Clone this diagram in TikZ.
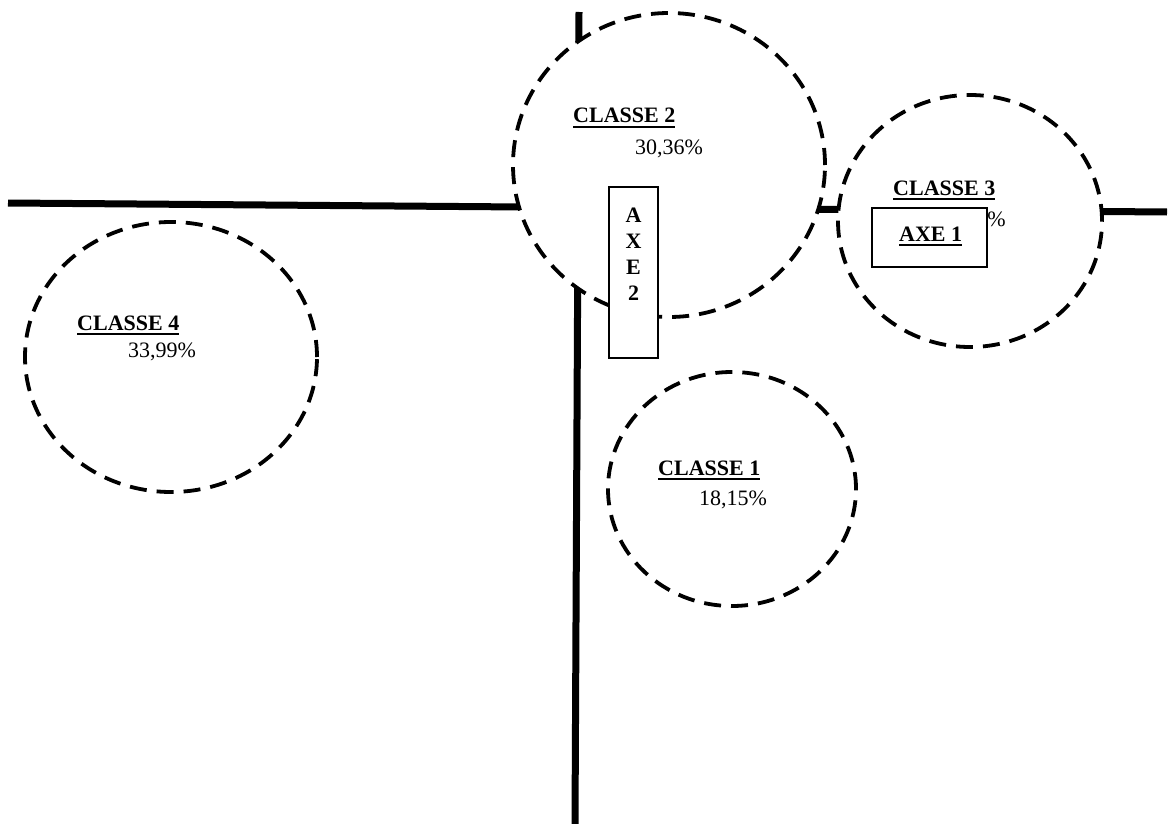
\documentclass[tikz,border=0pt]{standalone}
\usepackage{fontspec}
\setmainfont{Liberation Serif}
\usetikzlibrary{shapes.geometric}

% underline with a fixed offset and thickness
\newcommand\ulbar[1]{\begingroup\setbox0\hbox{#1}\rlap{\vrule width\wd0 height -2.6pt depth 4.6pt}\box0\endgroup}

\tikzset{
  axisline/.style={line width=7pt},
  classring/.style={ellipse, draw, fill=white, line width=3.8pt,
    dash pattern=on 17pt off 10pt, inner sep=0pt},
  classtitle/.style={anchor=base west, inner sep=0pt,
    font=\fontsize{22}{26}\selectfont\bfseries},
  classpct/.style={anchor=base west, inner sep=0pt,
    font=\fontsize{22}{26}\selectfont},
  axisbox/.style={draw, fill=white, line width=1.4pt, inner sep=0pt},
  axisletter/.style={anchor=base, inner sep=0pt,
    font=\fontsize{22}{26}\selectfont\bfseries}
}

\begin{document}
\begin{tikzpicture}[x=1pt, y=-1pt]
\useasboundingbox (0,0) rectangle (1170,824);

% the two axes
\coordinate (hleft) at (8,203);
\coordinate (hright) at (1167,212);
\coordinate (vtop) at (579,12);
\coordinate (vbottom) at (575,824);
\draw[axisline] (hleft) -- (hright);
\draw[axisline] (vtop) -- (vbottom);

% class rings (white filled, hiding the axes)
\node[classring, minimum width=312pt, minimum height=304pt] (ring2) at (669,165) {};
\node[classring, minimum width=264pt, minimum height=252pt] (ring3) at (970,221) {};
\node[classring, minimum width=292pt, minimum height=270pt] (ring4) at (171,357) {};
\node[classring, minimum width=248pt, minimum height=234pt] (ring1) at (732,489) {};

% labels of the classes
\node[classtitle] (t2) at (573,123) {\ulbar{CLASSE 2}};
\node[classpct]   (p2) at (635,154) {30,36\%};
\node[classtitle] (t3) at (893,195) {\ulbar{CLASSE 3}};
\node[classpct, anchor=base east] (p3) at (1006,226) {\%};
\node[classtitle] (t4) at (77,330) {\ulbar{CLASSE 4}};
\node[classpct]   (p4) at (128,357) {33,99\%};
\node[classtitle] (t1) at (658,475) {\ulbar{CLASSE 1}};
\node[classpct]   (p1) at (699,505) {18,15\%};

% axis names
\node[axisbox, minimum width=115pt, minimum height=59pt] (axe1box) at (929.5,237.5) {};
\node[classtitle] (axe1) at (899,241) {\ulbar{AXE 1}};

\node[axisbox, minimum width=49pt, minimum height=171pt] (axe2box) at (633.5,272.5) {};
\node[axisletter] (axe2a) at (633.5,222) {A};
\node[axisletter] (axe2x) at (633.5,248) {X};
\node[axisletter] (axe2e) at (633.5,274) {E};
\node[axisletter] (axe2n) at (633.5,300) {2};
\end{tikzpicture}
\end{document}
